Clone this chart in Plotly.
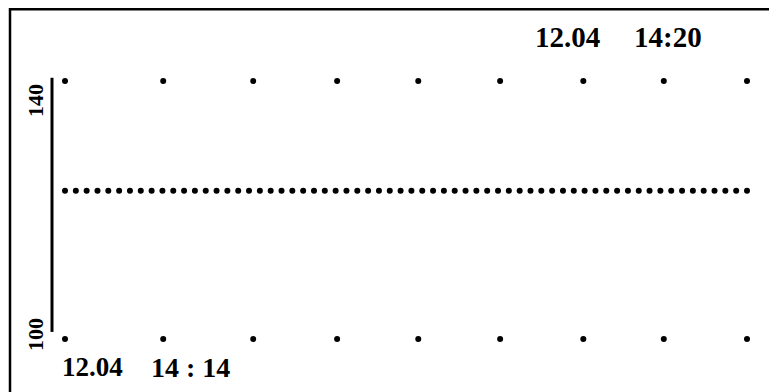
import plotly.graph_objects as go

# ---- data ----
grid_x = [0, 14.4, 27.6, 39.9, 51.8, 63.8, 76.0, 87.8, 100.0]   # grid column positions (relative units)
grid_y_top = 140
grid_y_bottom = 100
n_samples = 64
sample_value = 123
y_tick_labels = ["140", "100"]
start_date, start_time = "12.04", "14 : 14"
end_date, end_time = "12.04", "14:20"

sample_x = [i * 100 / (n_samples - 1) for i in range(n_samples)]
sample_y = [sample_value] * n_samples

OFF = 8  # page body margin
W, H = 777 - OFF, 392 - OFF
ML, MR, MT, MB = 52 - OFF, 17 - OFF, 60 - OFF, 40
PW, PH = W - ML - MR, H - MT - MB

def px(p):
    return (p - OFF - ML) / PW

def py(p):
    return (H - MB - (p - OFF)) / PH

FONT = "Liberation Serif"

fig = go.Figure()
fig.add_trace(go.Scatter(
    x=grid_x * 2,
    y=[grid_y_top] * len(grid_x) + [grid_y_bottom] * len(grid_x),
    mode="markers", marker=dict(size=6, color="black"),
    hoverinfo="skip", showlegend=False, cliponaxis=False))
fig.add_trace(go.Scatter(
    x=sample_x, y=sample_y, mode="markers",
    marker=dict(size=6, color="black"),
    hoverinfo="skip", showlegend=False, cliponaxis=False))

shapes = [
    dict(type="line", xref="paper", yref="paper", x0=px(10), x1=px(10), y0=py(8), y1=py(400),
         line=dict(color="black", width=2.5)),
    dict(type="line", xref="paper", yref="paper", x0=px(9), x1=px(790), y0=py(9.2), y1=py(9.2),
         line=dict(color="black", width=2.5)),
    dict(type="line", xref="paper", yref="y", x0=px(52), x1=px(52), y0=101.1, y1=140.5,
         line=dict(color="black", width=3)),
]

def ann(text, x, y, size, angle=0):
    return dict(text="<b>%s</b>" % text, xref="paper", yref="paper", x=px(x), y=py(y),
                xanchor="center", yanchor="middle", showarrow=False, textangle=angle,
                font=dict(family=FONT, size=size, color="black"))

annotations = [
    ann(y_tick_labels[0], 35, 101, 22, -90),
    ann(y_tick_labels[1], 35, 335, 22, -90),
    ann(start_date, 92, 367, 27),
    ann(start_time, 190, 367, 28),
    ann(end_date, 567, 37, 29),
    ann(end_time, 668, 37, 29),
]

x_scale = 6.82
y_scale = 6.45
fig.update_layout(
    width=W, height=H,
    margin=dict(l=ML, r=MR, t=MT, b=MB),
    paper_bgcolor="white", plot_bgcolor="white",
    xaxis=dict(range=[(ML + OFF - 65) / x_scale, (W + OFF - MR - 65) / x_scale],
               visible=False, fixedrange=True),
    yaxis=dict(range=[100 - (H + OFF - MB - 339) / y_scale, 140 + (81 - MT - OFF) / y_scale],
               visible=False, fixedrange=True),
    shapes=shapes, annotations=annotations, showlegend=False,
)

fig.write_html("out.html")
